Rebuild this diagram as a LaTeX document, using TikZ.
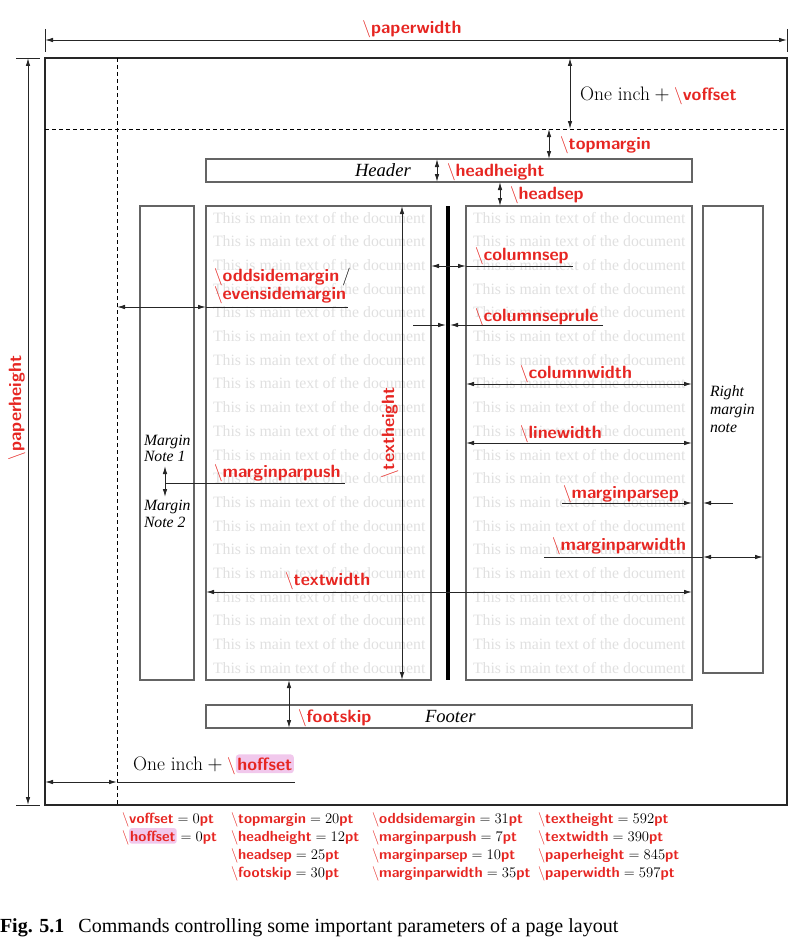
\documentclass[tikz,border=0pt]{standalone}
\usepackage{fontspec}
\newfontfamily\timesf{Liberation Serif}
\usetikzlibrary{arrows.meta}
\definecolor{cmdred}{RGB}{230,38,34}
\definecolor{hlpink}{RGB}{241,200,236}
\definecolor{txtgray}{RGB}{224,224,224}
\definecolor{boxgray}{RGB}{100,100,100}
\newcommand\cmdn[1]{\textcolor{cmdred}{$\backslash$\textsf{\bfseries #1}}}
\newcommand\redpt{\textcolor{cmdred}{\sffamily\bfseries pt}}
\newcommand\eqv[2]{\cmdn{#1}${}={}$#2\redpt}
\newcommand\oneinch{{\fontsize{19.5}{20}\selectfont One inch${}+{}$}}
\begin{document}
\begin{tikzpicture}[x=1pt,y=-1pt,
  every node/.style={inner sep=0pt,outer sep=0pt},
  box/.style={draw=boxgray,line width=1.1pt,anchor=north west},
  lbl/.style={font=\fontsize{17.8}{19}\selectfont,anchor=base west},
  tbl/.style={font=\fontsize{14.7}{15}\selectfont,anchor=base west},
  maintxt/.style={font=\timesf\fontsize{15.8}{16}\selectfont,text=txtgray,anchor=base west},
  note/.style={font=\timesf\itshape\fontsize{15.7}{16}\selectfont,anchor=base west},
  hf/.style={font=\timesf\itshape\fontsize{18.6}{19}\selectfont,anchor=base west},
  tip/.style={-{Latex[length=8pt,width=4.5pt]},line width=0.9pt,draw=black!85},
  dtip/.style={{Latex[length=8pt,width=4.5pt]}-{Latex[length=8pt,width=4.5pt]},line width=0.9pt,draw=black!85},
  plain/.style={line width=0.9pt,draw=black!85},
  dashline/.style={line width=0.8pt,dash pattern=on 4pt off 3pt}]
\useasboundingbox (0,0) rectangle (798,950);

% main text
\foreach \i in {0,...,19}{
  \node[maintxt] (tl\i) at (213,{223+23.7*\i}) {This is main text of the document};
  \node[maintxt] (tr\i) at (473,{223+23.7*\i}) {This is main text of the document};
}

% page and boxes
\node[draw=black!85,line width=1.3pt,anchor=north west,minimum width=742pt,minimum height=747pt] (page) at (45,58) {};
\node[box,minimum width=486pt,minimum height=23pt] (header) at (206,159) {};
\node[box,minimum width=486pt,minimum height=23pt] (footer) at (206,705) {};
\node[box,minimum width=54pt,minimum height=474pt] (lmar) at (140,206) {};
\node[box,minimum width=225pt,minimum height=474pt] (lcol) at (206,206) {};
\node[box,minimum width=226pt,minimum height=474pt] (rcol) at (466,206) {};
\node[box,minimum width=60pt,minimum height=467pt] (rmar) at (703,206) {};
\node[fill=black,anchor=north,minimum width=3.6pt,minimum height=474pt] (rule) at (448,206) {};

% dashed lines
\coordinate (dh1) at (45,129); \coordinate (dh2) at (787,129);
\coordinate (dv1) at (117,58); \coordinate (dv2) at (117,805);
\draw[dashline] (dh1) -- (dh2);
\draw[dashline] (dv1) -- (dv2);

% paperwidth
\coordinate (pw1) at (45,40); \coordinate (pw2) at (787,40);
\coordinate (pt1a) at (45,29); \coordinate (pt1b) at (45,52);
\coordinate (pt2a) at (787,29); \coordinate (pt2b) at (787,52);
\draw[plain] (pt1a) -- (pt1b); \draw[plain] (pt2a) -- (pt2b);
\draw[dtip] (pw1) -- (pw2);
\node[lbl,anchor=base] (lpw) at (412,34) {\cmdn{paperwidth}};

% paperheight
\coordinate (ph1) at (28,58); \coordinate (ph2) at (28,805);
\coordinate (ph1a) at (16,58); \coordinate (ph1b) at (40,58);
\coordinate (ph2a) at (16,805); \coordinate (ph2b) at (40,805);
\draw[plain] (ph1a) -- (ph1b); \draw[plain] (ph2a) -- (ph2b);
\draw[dtip] (ph1) -- (ph2);
\node[lbl,anchor=base,rotate=90] (lph) at (21,408) {\cmdn{paperheight}};

% voffset
\coordinate (vo1) at (570,58); \coordinate (vo2) at (570,129);
\draw[dtip] (vo1) -- (vo2);
\node[lbl] (lvo) at (580,100) {\oneinch\cmdn{voffset}};

% topmargin
\coordinate (tm1) at (549,129); \coordinate (tm2) at (549,159);
\draw[dtip] (tm1) -- (tm2);
\node[lbl] (ltm) at (560,149) {\cmdn{topmargin}};

% header
\node[hf] (thead) at (355,176) {Header};
\coordinate (hh1) at (437,159); \coordinate (hh2) at (437,182);
\draw[dtip] (hh1) -- (hh2);
\node[lbl] (lhh) at (447,176) {\cmdn{headheight}};

% headsep
\coordinate (hs1) at (500,182); \coordinate (hs2) at (500,206);
\draw[dtip] (hs1) -- (hs2);
\node[lbl] (lhs) at (510,199) {\cmdn{headsep}};

% oddsidemargin
\coordinate (os1) at (117,307); \coordinate (os2) at (206,307); \coordinate (os3) at (348,307);
\draw[dtip] (os1) -- (os2);
\draw[plain] (os2) -- (os3);
\node[lbl] (los1) at (214,281) {\cmdn{oddsidemargin}\,/};
\node[lbl] (los2) at (214,299) {\cmdn{evensidemargin}};

% textheight
\coordinate (th1) at (402,206); \coordinate (th2) at (402,680);
\draw[dtip] (th1) -- (th2);
\node[lbl,anchor=base,rotate=90] (lth) at (394,433) {\cmdn{textheight}};

% columnsep
\coordinate (cs1) at (431,266); \coordinate (cs2) at (466,266); \coordinate (cs3) at (573,266);
\draw[dtip] (cs1) -- (cs2);
\draw[plain] (cs2) -- (cs3);
\node[lbl] (lcs) at (475,260) {\cmdn{columnsep}};

% columnseprule
\coordinate (cr1) at (413,325); \coordinate (cr2) at (446,325);
\coordinate (cr3) at (603,325); \coordinate (cr4) at (450,325);
\draw[tip] (cr1) -- (cr2);
\draw[tip] (cr3) -- (cr4);
\node[lbl] (lcr) at (475,321) {\cmdn{columnseprule}};

% columnwidth
\coordinate (cw1) at (466,384); \coordinate (cw2) at (692,384);
\draw[dtip] (cw1) -- (cw2);
\node[lbl] (lcw) at (520,378) {\cmdn{columnwidth}};

% linewidth
\coordinate (lw1) at (466,443); \coordinate (lw2) at (692,443);
\draw[dtip] (lw1) -- (lw2);
\node[lbl] (llw) at (520,438) {\cmdn{linewidth}};

% right margin note
\node[note] (rn1) at (710,396) {Right};
\node[note] (rn2) at (710,414) {margin};
\node[note] (rn3) at (710,432) {note};

% marginparsep
\coordinate (ms1) at (562,503); \coordinate (ms2) at (692,503);
\coordinate (ms3) at (733,503); \coordinate (ms4) at (703,503);
\draw[tip] (ms1) -- (ms2);
\draw[tip] (ms3) -- (ms4);
\node[lbl] (lms) at (563,498) {\cmdn{marginparsep}};

% marginparwidth
\coordinate (mw0) at (544,557); \coordinate (mw1) at (703,557); \coordinate (mw2) at (763,557);
\draw[plain] (mw0) -- (mw1);
\draw[dtip] (mw1) -- (mw2);
\node[lbl] (lmw) at (552,550) {\cmdn{marginparwidth}};

% margin notes left
\node[note] (mn1a) at (144,445) {Margin};
\node[note] (mn1b) at (144,461) {Note 1};
\node[note] (mn2a) at (144,510) {Margin};
\node[note] (mn2b) at (144,527) {Note 2};

% marginparpush
\coordinate (mp0) at (165,483); \coordinate (mp1) at (165,466);
\coordinate (mp2) at (165,497); \coordinate (mp3) at (345,483);
\draw[tip] (mp0) -- (mp1);
\draw[tip] (mp0) -- (mp2);
\draw[plain] (mp0) -- (mp3);
\node[lbl] (lmp) at (214,477) {\cmdn{marginparpush}};

% textwidth
\coordinate (tw1) at (206,592); \coordinate (tw2) at (692,592);
\draw[dtip] (tw1) -- (tw2);
\node[lbl] (ltw) at (285,585) {\cmdn{textwidth}};

% footskip
\coordinate (fs1) at (289,680); \coordinate (fs2) at (289,728);
\draw[dtip] (fs1) -- (fs2);
\node[lbl] (lfs) at (298,722) {\cmdn{footskip}};
\node[hf] (tfoot) at (425,722) {Footer};

% hoffset
\coordinate (ho1) at (45,782); \coordinate (ho2) at (117,782); \coordinate (ho3) at (295,782);
\draw[dtip] (ho1) -- (ho2);
\draw[plain] (ho2) -- (ho3);
\node[lbl] (lho) at (133,770) {\oneinch\textcolor{cmdred}{$\backslash$}};
\node[lbl,fill=hlpink,rounded corners=3pt,inner xsep=1.5pt,inner ysep=3pt,text=cmdred] (lhob) at (lho.base east) {\sffamily\bfseries hoffset};

% table
\node[tbl] (t11) at (122,823) {\eqv{voffset}{0}};
\node[tbl] (t12a) at (122,841) {\textcolor{cmdred}{$\backslash$}};
\node[tbl,fill=hlpink,rounded corners=2.5pt,inner xsep=1pt,inner ysep=2.5pt,text=cmdred] (t12b) at (t12a.base east) {\sffamily\bfseries hoffset};
\node[tbl] (t12c) at (t12b.base east) {${}={}$0\redpt};
\node[tbl] (t21) at (231,823) {\eqv{topmargin}{20}};
\node[tbl] (t22) at (231,841) {\eqv{headheight}{12}};
\node[tbl] (t23) at (231,859) {\eqv{headsep}{25}};
\node[tbl] (t24) at (231,877) {\eqv{footskip}{30}};
\node[tbl] (t31) at (372,823) {\eqv{oddsidemargin}{31}};
\node[tbl] (t32) at (372,841) {\eqv{marginparpush}{7}};
\node[tbl] (t33) at (372,859) {\eqv{marginparsep}{10}};
\node[tbl] (t34) at (372,877) {\eqv{marginparwidth}{35}};
\node[tbl] (t41) at (538,823) {\eqv{textheight}{592}};
\node[tbl] (t42) at (538,841) {\eqv{textwidth}{390}};
\node[tbl] (t43) at (538,859) {\eqv{paperheight}{845}};
\node[tbl] (t44) at (538,877) {\eqv{paperwidth}{597}};

% caption
\node[anchor=base west,font=\timesf\fontsize{20}{21}\selectfont] (cap) at (0,932) {\textbf{Fig. 5.1}\hspace{0.7em}Commands controlling some important parameters of a page layout};
\end{tikzpicture}
\end{document}
